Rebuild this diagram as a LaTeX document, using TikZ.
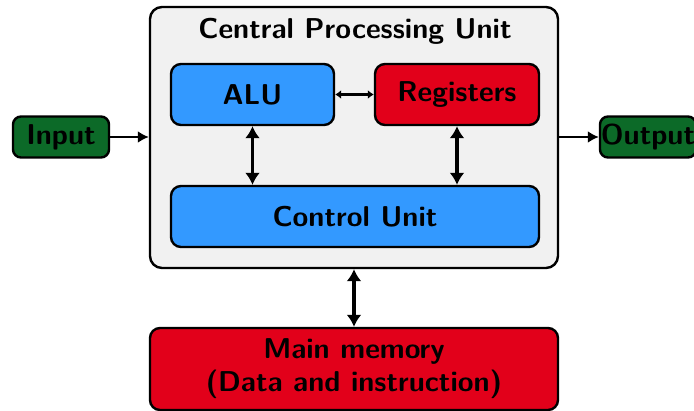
\documentclass[tikz,border=0pt]{standalone}
\usetikzlibrary{arrows.meta}
\definecolor{cpublue}{RGB}{51,153,255}
\definecolor{cpured}{RGB}{226,0,26}
\definecolor{cpugreen}{RGB}{12,106,40}
\definecolor{cpugray}{RGB}{241,241,241}
\tikzset{
  txt/.style={font=\fontsize{28.7}{33}\selectfont\sffamily\bfseries},
  blk/.style={txt, draw=black, line width=2.4pt, rounded corners=10pt, inner sep=0pt, align=center},
  io/.style={blk, fill=cpugreen, rounded corners=8pt, text width=96pt, align=center},
  harrow/.style={line width=2.4pt, -{Latex[length=11pt,width=12pt]}},
  dharrow/.style={line width=2.2pt, {Latex[length=6pt,width=9pt]}-{Latex[length=6pt,width=9pt]}},
  dvarrow/.style={line width=3.8pt, {Latex[length=12pt,width=15pt]}-{Latex[length=12pt,width=15pt]}}
}
\begin{document}
\begin{tikzpicture}[x=1pt,y=-1pt]
\useasboundingbox (0,0) rectangle (694,410);
\clip (0,0) rectangle (694,410);
\node[blk, fill=cpugray, rounded corners=12pt, minimum width=408pt, minimum height=261pt] (cpu) at (354,137.5) {};
\node[txt] (title) at (355,31) {Central Processing Unit};
\node[blk, fill=cpublue, minimum width=163pt, minimum height=61pt] (alu) at (252.5,94.5) {ALU};
\node[blk, fill=cpured, minimum width=164pt, minimum height=61pt] (reg) at (457,94.5) {Registers};
\node[blk, fill=cpublue, minimum width=368pt, minimum height=61pt] (cu) at (355,216.5) {Control Unit};
\node[io, minimum height=41pt] (in) at (61,137) {Input};
\node[io, minimum height=41pt] (out) at (648,137) {Output};
\node[blk, fill=cpured, minimum width=408pt, minimum height=82pt] (mem) at (354,369) {Main memory\\(Data and instruction)};
\draw[harrow] (in.east) -- (cpu.west |- in.east);
\draw[harrow] (cpu.east |- out.west) -- (out.west);
\draw[dharrow] (alu.east) -- (reg.west);
\draw[dvarrow] (alu.south) -- (alu.south |- cu.north);
\draw[dvarrow] (reg.south) -- (reg.south |- cu.north);
\draw[dvarrow] (cpu.south -| mem.north) -- (mem.north);
\end{tikzpicture}
\end{document}
